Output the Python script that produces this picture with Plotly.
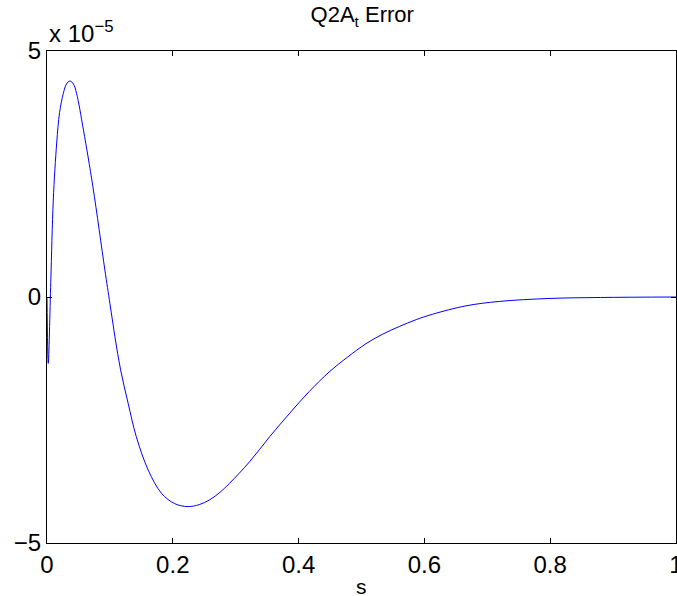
import plotly.graph_objects as go

# s values and error values (in units of 1e-5)
s_vals = [0.0, 0.002, 0.006, 0.010, 0.0154, 0.020, 0.026, 0.031, 0.0365, 0.042, 0.047,
          0.058, 0.073, 0.092, 0.100, 0.108, 0.117, 0.129, 0.142, 0.161, 0.182, 0.203,
          0.224, 0.242, 0.259, 0.275, 0.290, 0.322, 0.354, 0.386, 0.417, 0.449, 0.478,
          0.507, 0.533, 0.560, 0.587, 0.613, 0.666, 0.719, 0.798, 0.880, 1.0]
err_e5 = [0.0, -1.35, 0.30, 1.97, 3.13, 3.75, 4.14, 4.33, 4.39, 4.33, 4.14,
          3.39, 2.24, 0.55, -0.13, -0.81, -1.48, -2.16, -2.84, -3.52, -3.99, -4.20,
          -4.26, -4.22, -4.12, -3.97, -3.79, -3.35, -2.84, -2.36, -1.92, -1.52, -1.22,
          -0.95, -0.76, -0.60, -0.46, -0.35, -0.18, -0.09, -0.03, -0.01, 0.0]

x_ticks = [0, 0.2, 0.4, 0.6, 0.8, 1]
x_ticktext = ["0", "0.2", "0.4", "0.6", "0.8", "1"]
y_ticks = [-5, 0, 5]
y_ticktext = ["\u22125", "0", "5"]

FONT = "Liberation Sans, Arial, Helvetica, sans-serif"

fig = go.Figure()
fig.add_trace(go.Scatter(x=s_vals, y=err_e5, mode="lines",
                         line=dict(color="#0000ff", width=1, shape="spline", smoothing=1.0),
                         hoverinfo="skip", showlegend=False))

fig.update_layout(
    width=677, height=596,
    margin=dict(l=47, r=1, t=51, b=53, pad=0),
    paper_bgcolor="white", plot_bgcolor="white",
    font=dict(family=FONT, color="black", size=24),
    title=dict(text="Q2A<sub>t</sub> Error", x=0.535, xanchor="center",
               y=0.976, yanchor="middle", font=dict(size=22, family=FONT)),
    xaxis=dict(range=[0, 1], tickvals=x_ticks, ticktext=x_ticktext,
               ticks="inside", ticklen=5, tickcolor="black", tickwidth=1,
               showline=True, linecolor="black", linewidth=1, mirror="ticks",
               showgrid=False, zeroline=False, automargin=False,
               ticklabeloverflow="allow", tickfont=dict(size=24)),
    yaxis=dict(range=[-5, 5], tickvals=y_ticks, ticktext=y_ticktext,
               ticks="inside", ticklen=5, tickcolor="black", tickwidth=1,
               showline=True, linecolor="black", linewidth=1, mirror="ticks",
               showgrid=False, zeroline=False, automargin=False,
               ticklabeloverflow="allow", tickfont=dict(size=24)),
    annotations=[
        dict(text="x 10<sup>\u22125</sup>", xref="paper", yref="paper",
             x=0.0, y=1.0, xanchor="left", yanchor="bottom", showarrow=False,
             font=dict(size=24, family=FONT), yshift=2),
        dict(text="s", xref="paper", yref="paper", x=0.5, y=0.0,
             xanchor="center", yanchor="middle", showarrow=False,
             font=dict(size=21, family=FONT), yshift=-43),
    ],
)

fig.write_html("out.html", config={"displayModeBar": False},
               post_script="document.body.style.margin='0';document.body.style.padding='0';")
